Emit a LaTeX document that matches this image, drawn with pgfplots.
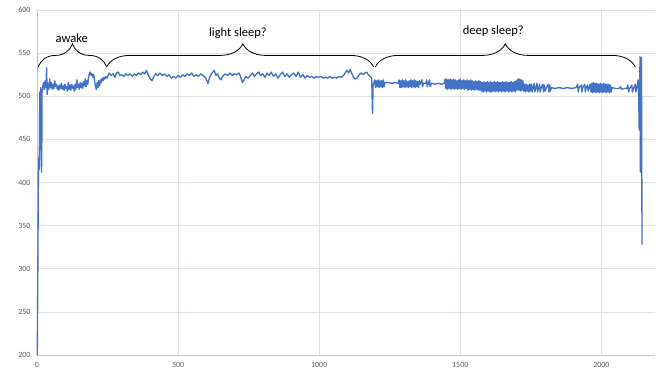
\documentclass[border=0pt]{standalone}
\usepackage{pgfplots}
\pgfplotsset{compat=1.18}
\usepackage{fontspec}
\setmainfont{Carlito}
\usetikzlibrary{decorations.pathreplacing}
\definecolor{xblue}{HTML}{4472C4}
\definecolor{gridc}{HTML}{DDE1E8}
\definecolor{tickc}{HTML}{595959}
\definecolor{yaxc}{HTML}{B8C4DE}
\begin{document}
\begin{tikzpicture}
\begin{axis}[
 at={(0,0)}, anchor=south west,
 scale only axis, width=618pt, height=345pt,
 xmin=0, xmax=2190, ymin=200, ymax=600,
 xtick={0,500,1000,1500,2000}, ytick={200,250,300,350,400,450,500,550,600},
 grid=major, major grid style={draw=gridc, line width=0.7pt},
 axis x line=bottom, axis y line=left,
 x axis line style={-, draw=gray!45, line width=0.8pt},
 y axis line style={-, draw=yaxc, line width=0.8pt},
 major tick length=0pt,
 tick label style={font=\fontsize{8}{9}\selectfont, text=tickc},
 /pgf/number format/assume math mode=true,
 /pgf/number format/1000 sep={},
 xticklabel style={yshift=-4pt},
 yticklabel style={xshift=-3pt},
 clip=false,
]
\addplot[xblue, line width=1.35pt, line join=round] coordinates {
(0,200)(1,200)(3,300)(5,412)(7,430)(8,415)(10,505)(12,495)(13,510)(15,430)(16,412)(17,440)(18,505)(20,510)
(23,516)(26,508)(29,518)(32,510)(34,533)(36,502)(39,515)(42,508)(45,520)(48,510)(51,516)(54,508)(57,514)(60,509)
(63,518)(66,511)(69,514)(72,508)(75,512)(78,507)(81,513)(84,509)(87,515)(90,508)(93,512)(96,507)(99,514)(102,509)
(105,511)(108,506)(111,516)(114,508)(117,513)(120,507)(123,514)(126,509)(129,512)(132,506)(135,514)(138,508)
(141,519)(144,510)(147,514)(150,508)(153,516)(156,510)(159,515)(162,509)(165,517)(168,512)(171,520)(174,511)
(177,518)(180,514)(183,522)(186,527)(189,528)(192,524)(195,526)(198,522)(201,525)(204,518)(207,512)(210,508)
(213,516)(216,510)(219,518)(222,512)(225,519)(228,516)(231,521)(234,518)(237,522)(240,520)(244,523)(248,521)
(256,527)(262,524)(270,526)(276,522)(282,527)(288,528)(294,524)(300,525)(308,523)(315,526)(322,524)(330,526)
(338,523)(345,526)(352,524)(360,527)(368,525)(375,528)(382,526)(388,530)(395,524)(402,520)(408,518)(414,523)
(420,526)(428,524)(436,527)(444,524)(452,526)(460,523)(468,525)(476,521)(484,523)(492,521)(500,524)(508,522)
(516,525)(524,523)(532,526)(540,524)(548,527)(556,523)(564,525)(572,523)(580,526)(588,524)(596,522)(602,518)
(606,515)(612,522)(620,527)(628,530)(634,524)(640,526)(646,521)(652,519)(660,524)(668,526)(676,524)(684,527)
(692,524)(700,526)(708,525)(716,527)(722,522)(728,516)(734,519)(740,523)(748,521)(756,524)(764,527)(770,523)
(778,526)(786,528)(792,524)(800,526)(808,522)(815,527)(822,524)(830,528)(838,523)(846,526)(854,521)(862,525)
(870,528)(878,523)(886,526)(894,522)(902,525)(910,527)(918,523)(926,528)(934,522)(942,525)(950,521)(958,524)
(966,522)(974,523)(982,521)(990,523)(998,522)(1006,523)(1014,521)(1022,522)(1030,521)(1038,523)(1046,521)
(1054,522)(1062,521)(1070,523)(1078,522)(1086,524)(1092,527)(1098,530)(1104,527)(1110,531)(1116,526)(1122,522)
(1128,520)(1134,521)(1140,524)(1148,527)(1156,525)(1162,527)(1168,528)(1174,525)(1180,523)(1186,521)(1189,480)
(1191,512)(1194,516)
(1197,519)(1200,510)(1203,518)(1206,511)(1209,519)(1212,510)(1215,518)(1218,511)(1221,518)(1224,510)(1227,519)
(1230,511)(1233,516)(1245,516)(1258,515)(1270,516)(1280,515)
(1283,519)(1286,510)(1289,518)(1292,510)(1295,519)(1298,511)(1301,518)(1304,510)(1307,519)(1310,511)(1313,517)
(1316,510)(1319,518)(1322,511)(1325,519)(1328,510)(1331,518)(1334,511)(1337,519)(1340,510)(1343,518)(1346,511)
(1349,517)(1352,510)(1355,518)(1358,514)
(1364,519)(1366,511)(1370,515)(1378,515)(1381,519)(1383,511)(1387,515)(1391,519)(1393,511)(1398,515)(1410,514)
(1422,515)(1434,514)(1443,515)
(1446,520)(1449,509)(1452,520)(1455,508)(1458,519)(1461,509)(1464,520)(1467,508)(1470,519)(1473,509)(1476,520)
(1479,508)(1482,519)(1485,509)(1488,518)(1491,508)(1494,519)(1497,509)(1500,520)(1503,508)(1506,518)(1509,509)
(1512,519)(1515,508)(1518,518)(1521,509)(1524,519)(1527,507)(1530,518)(1533,508)(1536,519)(1539,507)(1542,518)
(1545,508)(1548,517)(1551,507)(1554,518)(1557,508)(1560,517)(1563,507)(1566,518)(1569,507)
(1572,517)(1575,506)(1578,516)(1581,505)(1584,517)(1587,506)(1590,516)(1593,505)(1596,517)(1599,506)(1602,516)
(1605,505)(1608,517)(1611,505)(1614,516)(1617,506)(1620,517)(1623,505)(1626,516)(1629,506)(1632,517)(1635,505)
(1638,516)(1641,506)(1644,516)(1647,505)(1650,517)(1653,506)(1656,516)(1659,505)(1662,517)(1665,506)(1668,516)
(1671,505)(1674,516)(1677,506)(1680,517)(1683,505)(1686,516)(1689,506)(1692,517)(1695,505)(1698,518)
(1701,507)(1704,520)(1707,507)(1710,520)(1713,506)(1716,519)(1719,507)(1722,518)
(1725,506)(1728,514)(1731,505)(1734,514)(1737,506)(1740,513)(1743,505)(1746,514)(1749,506)(1752,514)(1755,505)
(1758,510)(1762,515)(1764,505)(1768,510)(1772,515)(1774,505)(1778,510)(1781,514)(1783,505)(1787,510)
(1792,514)(1795,505)(1798,513)(1801,506)(1805,510)(1812,514)(1814,505)(1817,513)(1819,506)(1823,510)
(1835,509)(1850,510)(1865,509)(1880,510)(1895,509)(1910,510)
(1916,514)(1918,505)(1921,510)(1929,513)(1931,505)(1934,510)(1941,514)(1943,505)(1946,510)(1951,513)(1953,506)
(1957,510)
(1960,514)(1963,505)(1966,515)(1969,504)(1972,516)(1975,505)(1978,515)(1981,504)(1984,515)(1987,505)(1990,514)
(1993,504)(1996,515)(1999,505)(2002,514)(2005,504)(2008,515)(2011,505)(2014,514)(2017,504)(2020,514)(2023,505)
(2026,514)(2029,504)(2032,513)(2035,505)(2038,510)
(2050,509)(2062,509)(2068,511)(2072,508)(2080,509)(2090,509)
(2094,513)(2096,505)(2100,509)(2108,513)(2110,505)(2114,509)(2120,514)(2122,505)(2126,510)
(2130,519)(2132,505)(2134,461)(2136,520)(2137,546)(2138,412)(2140,470)(2142,545)(2144,328)
};
\draw[black, line width=0.8pt, decorate, decoration={brace, amplitude=23pt, aspect=0.5}]
  (axis cs:4,534) -- (axis cs:247,534);
\draw[black, line width=0.8pt, decorate, decoration={brace, amplitude=23pt, aspect=0.51}]
  (axis cs:247,534) -- (axis cs:1193,534);
\draw[black, line width=0.8pt, decorate, decoration={brace, amplitude=23pt, aspect=0.5}]
  (axis cs:1199,534) -- (axis cs:2120,534);
\node[font=\fontsize{12.5}{14}\selectfont] at (axis cs:123,567.5) {awake};
\node[font=\fontsize{12.5}{14}\selectfont] at (axis cs:712,573.3) {light sleep?};
\node[font=\fontsize{12.5}{14}\selectfont] at (axis cs:1617,575.7) {deep sleep?};
\end{axis}
\pgfresetboundingbox
\path[use as bounding box] (-37pt,-15pt) rectangle (625pt,355pt);
\end{tikzpicture}
\end{document}
